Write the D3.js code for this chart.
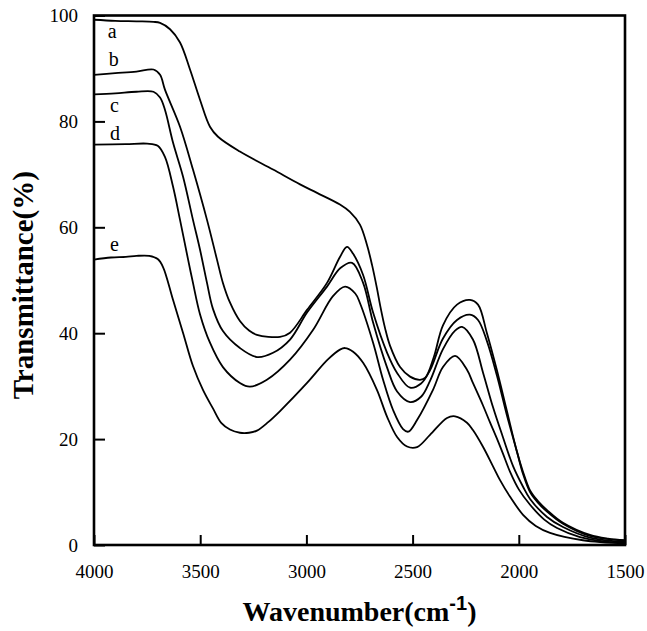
<!DOCTYPE html>
<html>
<head>
<meta charset="utf-8">
<script src="https://cdn.jsdelivr.net/npm/d3@7"></script>
<style>
  body { margin: 0; background: #fff; }
</style>
</head>
<body>
<svg id="chart" width="647" height="631"></svg>
<script>
// spectra: [wavenumber, transmittance]
const curveA = [[4000,99.2],[3900,99.0],[3800,98.9],[3720,98.8],[3689,98.6],[3642,97.4],[3595,94.9],[3548,89.8],[3501,84.1],[3454,79.0],[3416,77.1],[3313,74.3],[3157,70.9],[3030,68.1],[2950,66.5],[2842,64.3],[2795,62.9],[2748,60.5],[2715,56.7],[2691,52.9],[2668,48.5],[2653,45.3],[2630,41.0],[2606,37.6],[2559,33.6],[2512,31.8],[2465,31.2],[2440,31.6],[2400,35.5],[2357,41.5],[2291,45.4],[2230,46.3],[2192,45.4],[2150,40.0],[2103,33.0],[2056,25.3],[2008,17.5],[1980,13.8],[1947,10.3],[1910,8.3],[1867,6.6],[1792,4.2],[1665,1.9],[1580,1.2],[1500,0.9]];
const curveB = [[4000,88.8],[3900,89.1],[3800,89.4],[3720,89.8],[3689,88.8],[3666,86.0],[3595,79.0],[3534,70.9],[3468,61.4],[3421,53.9],[3393,49.5],[3360,45.8],[3313,42.3],[3270,40.5],[3233,39.7],[3124,39.3],[3077,40.1],[2997,44.4],[2903,49.5],[2842,54.4],[2809,56.3],[2780,55.0],[2733,51.0],[2686,43.9],[2620,36.3],[2573,32.5],[2512,29.7],[2460,30.5],[2418,33.0],[2357,39.0],[2291,42.5],[2230,43.5],[2192,42.5],[2150,38.5],[2103,32.0],[2056,24.5],[2008,17.5],[1980,13.4],[1947,10.0],[1910,8.0],[1867,6.3],[1792,4.0],[1665,1.7],[1500,0.8]];
const curveC = [[4000,85.1],[3900,85.3],[3800,85.6],[3720,85.6],[3689,84.5],[3666,82.2],[3628,76.0],[3581,69.6],[3534,61.4],[3501,55.8],[3468,49.5],[3440,44.6],[3393,40.4],[3313,37.2],[3233,35.5],[3157,36.3],[3077,38.8],[2997,43.9],[2903,48.8],[2840,52.3],[2785,53.3],[2733,49.5],[2686,42.0],[2620,33.5],[2573,29.0],[2512,27.0],[2460,28.0],[2418,31.0],[2357,37.0],[2300,40.5],[2267,41.2],[2216,38.8],[2168,32.5],[2122,26.1],[2075,20.4],[2027,14.9],[1980,11.0],[1947,8.7],[1867,5.3],[1792,3.4],[1665,1.4],[1500,0.6]];
const curveD = [[4000,75.6],[3850,75.7],[3750,75.8],[3700,75.4],[3666,73.3],[3628,67.7],[3595,61.4],[3557,53.9],[3534,49.5],[3501,43.6],[3454,38.2],[3393,33.6],[3313,30.6],[3266,29.9],[3186,31.2],[3077,35.0],[2969,40.6],[2875,47.0],[2818,48.8],[2770,47.5],[2748,45.7],[2686,38.2],[2639,31.2],[2592,25.5],[2545,21.9],[2520,21.4],[2479,23.6],[2404,29.3],[2357,33.6],[2300,35.7],[2244,33.1],[2216,30.6],[2168,26.3],[2136,23.2],[2100,19.8],[2075,17.3],[2041,13.8],[2000,10.5],[1947,7.6],[1880,4.8],[1820,3.2],[1712,1.5],[1600,0.7],[1500,0.4]];
const curveE = [[4000,53.9],[3920,54.3],[3850,54.4],[3800,54.6],[3740,54.6],[3700,54.0],[3675,52.5],[3628,46.3],[3581,40.1],[3534,33.8],[3487,29.3],[3440,25.8],[3400,23.0],[3360,21.8],[3313,21.2],[3270,21.2],[3233,21.6],[3180,23.2],[3124,25.3],[2997,30.6],[2900,35.0],[2842,36.9],[2818,37.2],[2780,36.5],[2733,34.4],[2668,29.3],[2620,24.2],[2573,20.4],[2526,18.6],[2479,18.5],[2418,20.8],[2338,24.0],[2300,24.3],[2244,23.1],[2216,21.7],[2168,18.5],[2122,14.9],[2089,12.3],[2041,9.1],[1980,5.7],[1920,3.6],[1853,2.3],[1698,0.9],[1500,0.3]];

const seriesNames = ["a", "b", "c", "d", "e"];
// where each letter sits: [wavenumber, transmittance]
const labelAnchors = [[3935,95.8],[3930,90.5],[3925,81.7],[3925,76.4],[3925,55.6]];

const xTicks = [4000, 3500, 3000, 2500, 2000, 1500];
const yTicks = [0, 20, 40, 60, 80, 100];

const margin = {top: 15.5, right: 22, bottom: 86, left: 94};
const width = 647, height = 631;
const serif = "'Liberation Serif', 'Times New Roman', serif";

const svg = d3.select("#chart");

const x = d3.scaleLinear()
    .domain([4000, 1500])
    .range([margin.left, width - margin.right]);

const y = d3.scaleLinear()
    .domain([0, 100])
    .range([height - margin.bottom, margin.top]);

const line = d3.line()
    .x(d => x(d[0]))
    .y(d => y(d[1]))
    .curve(d3.curveCatmullRom.alpha(0.5));

const curves = [curveA, curveB, curveC, curveD, curveE];

svg.append("g")
  .selectAll("path")
  .data(curves)
  .join("path")
    .attr("fill", "none")
    .attr("stroke", "#000")
    .attr("stroke-width", 1.8)
    .attr("stroke-linejoin", "round")
    .attr("d", line);

// curve letters
svg.append("g")
  .selectAll("text")
  .data(seriesNames)
  .join("text")
    .attr("x", (d, i) => x(labelAnchors[i][0]))
    .attr("y", (d, i) => y(labelAnchors[i][1]))
    .attr("font-family", serif)
    .attr("font-size", 20)
    .text(d => d);

// axes, ticks point inward
const xAxis = g => g
    .attr("transform", `translate(0,${y(0)})`)
    .call(d3.axisBottom(x).tickValues(xTicks).tickSize(-10).tickPadding(20).tickFormat(d3.format("d")))
    .call(g => g.select(".domain").remove());

const yAxis = g => g
    .attr("transform", `translate(${x(4000)},0)`)
    .call(d3.axisLeft(y).tickValues(yTicks).tickSize(-11).tickPadding(16))
    .call(g => g.select(".domain").remove());

svg.append("g").call(xAxis);
svg.append("g").call(yAxis);

svg.selectAll(".tick line")
    .attr("stroke", "#000")
    .attr("stroke-width", 2);
svg.selectAll(".tick text")
    .attr("fill", "#000")
    .attr("font-family", serif)
    .attr("font-size", 19);

// frame
svg.append("rect")
    .attr("x", x(4000))
    .attr("y", y(100))
    .attr("width", x(1500) - x(4000))
    .attr("height", y(0) - y(100))
    .attr("fill", "none")
    .attr("stroke", "#000")
    .attr("stroke-width", 2.6);

// axis titles
const xTitle = svg.append("text")
    .attr("x", (x(4000) + x(1500)) / 2)
    .attr("y", 621)
    .attr("text-anchor", "middle")
    .attr("font-family", serif)
    .attr("font-weight", "bold")
    .attr("font-size", 28);
xTitle.append("tspan").text("Wavenumber(cm");
xTitle.append("tspan")
    .attr("font-family", "'Liberation Sans', Arial, sans-serif")
    .attr("font-size", 20)
    .attr("dy", -11)
    .text("-1");
xTitle.append("tspan")
    .attr("dy", 11)
    .text(")");

svg.append("text")
    .attr("transform", `translate(33,${(y(0) + y(100)) / 2 + 5}) rotate(-90)`)
    .attr("text-anchor", "middle")
    .attr("font-family", serif)
    .attr("font-weight", "bold")
    .attr("font-size", 29)
    .text("Transmittance(%)");
</script>
</body>
</html>
